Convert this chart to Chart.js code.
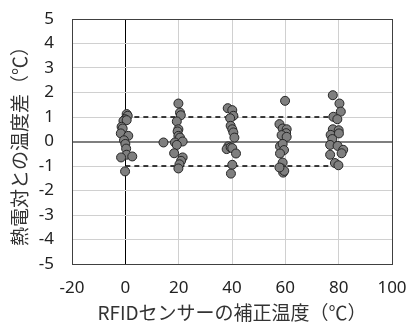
<!DOCTYPE html>
<html>
<head>
<meta charset="utf-8">
<script src="https://cdn.jsdelivr.net/npm/chart.js@4"></script>
<style>
  html, body { margin: 0; padding: 0; background: #fff; }
  #wrap { width: 409px; height: 327px; }
</style>
</head>
<body>
<div id="wrap"><canvas id="chart" width="409" height="327"></canvas></div>
<script>
// measured points: RFID compensated temp (x) vs difference to thermocouple (y)
var xValues = [
  0.5, 0.9, -0.1, -0.7, 0.5, -1.4, -1.0, -1.7, 1.1, -0.5, 0, 0.3, 0.5, -1.6, 2.6, -0.1,
  19.9, 20.5, 20.8, 19.3, 19.9, 19.6, 19.9, 20.5, 14.3, 18.6, 21.5, 19.3, 18.3, 21.5, 20.9, 20.3, 19.9,
  38.4, 40.1, 40.5, 39.3, 39.5, 40.1, 40.5, 40.9, 38.6, 38.0, 39.5, 40.1, 41.5, 40.1, 39.6,
  59.9, 57.8, 59.0, 60.5, 60.3, 58.6, 60.5, 58.0, 59.0, 59.5, 58.0, 59.0, 58.6, 59.2, 59.6, 57.8,
  77.8, 80.3, 80.8, 78.0, 79.5, 77.8, 80.0, 77.0, 80.1, 77.6, 76.8, 79.6, 81.7, 81.1, 76.8, 78.6, 79.9
];
var yValues = [
  1.12, 1.05, 0.91, 0.84, 0.87, 0.6, 0.53, 0.33, 0.23, 0.05, -0.1, -0.29, -0.54, -0.65, -0.61, -1.22,
  1.55, 1.18, 1.07, 0.82, 0.5, 0.41, 0.23, 0.16, -0.04, -0.04, 0, -0.14, -0.48, -0.65, -0.79, -0.93, -1.1,
  1.36, 1.28, 1.05, 0.95, 0.64, 0.5, 0.37, 0.16, -0.2, -0.31, -0.24, -0.27, -0.49, -0.95, -1.31,
  1.66, 0.71, 0.53, 0.5, 0.34, 0.26, 0.19, -0.2, -0.1, -0.35, -0.49, -0.86, -1.1, -1.27, -1.2, -1.06,
  1.89, 1.55, 1.22, 1.01, 0.91, 0.5, 0.46, 0.27, 0.33, 0.1, -0.14, -0.18, -0.34, -0.48, -0.54, -0.88, -0.97
];

// ±1℃ limit lines
var limitX = [0, 80];
var limitY = [1, -1];

var xTitle = "RFIDセンサーの補正温度（℃）";
var yTitle = "熱電対との温度差（℃）";

var points = xValues.map(function (x, i) { return { x: x, y: yValues[i] }; });

var datasets = [{
  type: "scatter",
  data: points,
  backgroundColor: "#7f7f7f",
  borderColor: "#262626",
  borderWidth: 1,
  pointRadius: 4.5,
  order: 0
}];
limitY.forEach(function (y) {
  datasets.push({
    type: "line",
    data: limitX.map(function (x) { return { x: x, y: y }; }),
    borderColor: "#000",
    borderWidth: 1.3,
    borderDash: [5, 4],
    pointRadius: 0,
    fill: false,
    order: 1
  });
});

var tickFont = { family: "'Noto Sans', sans-serif", size: 17 };
var titleFont = { family: "'Noto Sans CJK JP', sans-serif", size: 19 };

new Chart("chart", {
  data: { datasets: datasets },
  options: {
    responsive: false,
    animation: false,
    layout: { padding: { top: 19, right: 17, left: 0, bottom: 0 } },
    plugins: {
      legend: { display: false },
      tooltip: { enabled: false }
    },
    scales: {
      x: {
        type: "linear",
        min: -20,
        max: 100,
        ticks: { stepSize: 20, color: "#222", font: tickFont, padding: 14 },
        grid: {
          drawTicks: false,
          color: (ctx) => ctx.tick.value === 0 ? "#000" : (ctx.tick.value === 100 ? "#404040" : "#d0d0d0"),
          lineWidth: 1
        },
        border: { color: "#404040", width: 1 },
        title: { display: true, text: xTitle, color: "#333", font: titleFont, padding: { top: 0, bottom: 3 } },
        afterFit: (scale) => {
          scale.height = 63;
          scale.paddingLeft = 0;
          scale.paddingRight = 0;
        }
      },
      y: {
        type: "linear",
        min: -5,
        max: 5,
        ticks: { stepSize: 1, color: "#222", font: tickFont, padding: 18 },
        grid: {
          drawTicks: false,
          color: (ctx) => ctx.tick.value === 0 ? "#7f7f7f" : (ctx.tick.value === 5 ? "#404040" : "#d0d0d0"),
          lineWidth: (ctx) => ctx.tick.value === 0 ? 2 : 1
        },
        border: { color: "#404040", width: 1 },
        title: { display: true, text: yTitle, color: "#333", font: titleFont, padding: { top: 8, bottom: 0 } },
        afterFit: (scale) => {
          scale.width = 72;
          scale.paddingTop = 0;
          scale.paddingBottom = 0;
        }
      }
    }
  }
});
</script>
</body>
</html>
